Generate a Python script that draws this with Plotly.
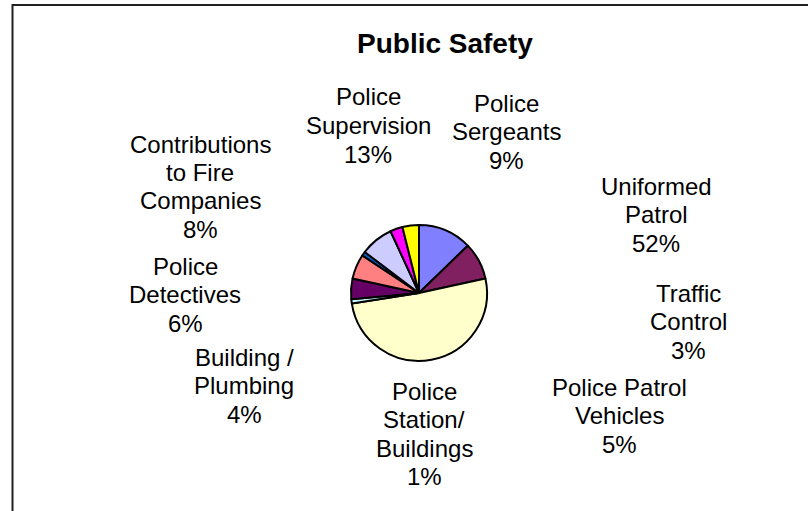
import plotly.graph_objects as go

# Public Safety budget shares (percent), in clockwise order from 12 o'clock
categories = [
    "Police<br>Supervision",
    "Police<br>Sergeants",
    "Uniformed<br>Patrol",
    "Police<br>Station/<br>Buildings",
    "Police Patrol<br>Vehicles",
    "Police<br>Detectives",
    "Miscellaneous",
    "Contributions<br>to Fire<br>Companies",
    "Traffic<br>Control",
    "Building /<br>Plumbing",
]
percents = [13, 9, 52, 1, 5, 6, 1, 8, 3, 4]
labelled = [True, True, True, True, True, True, False, True, True, True]
colors = ["#8080FF", "#802060", "#FFFFCC", "#CCFFFF", "#660066",
          "#FF8080", "#0066CC", "#CCCCFF", "#FF00FF", "#FFFF00"]

W, H = 808, 511

# label anchor (centre x, first-line centre y) in pixels
label_pos = [
    (368, 97), (506, 103), (656, 186), (424, 391), (619, 387),
    (185, 266), None, (200, 144), (688, 293), (244, 357),
]
LINE_STEP = 28.5

fig = go.Figure(go.Pie(
    labels=categories,
    values=percents,
    sort=False,
    direction="clockwise",
    rotation=0,
    marker=dict(colors=colors, line=dict(color="black", width=2)),
    textinfo="none",
    hoverinfo="skip",
    showlegend=False,
    domain=dict(x=[351 / W, 487 / W], y=[1 - 361 / H, 1 - 225 / H]),
))

annotations = [dict(
    text="<b>Public Safety</b>", x=445 / W, y=1 - 43 / H,
    xref="paper", yref="paper", xanchor="center", yanchor="middle",
    showarrow=False, font=dict(family="Liberation Sans", size=28, color="black"),
)]

for name, pct, show, pos in zip(categories, percents, labelled, label_pos):
    if not show or pos is None:
        continue
    lines = name.split("<br>") + [f"{pct}%"]
    cx, cy = pos
    for i, line in enumerate(lines):
        annotations.append(dict(
            text=line, x=cx / W, y=1 - (cy + i * LINE_STEP) / H,
            xref="paper", yref="paper", xanchor="center", yanchor="middle",
            showarrow=False,
            font=dict(family="Liberation Sans", size=24, color="black"),
        ))

fig.update_layout(
    width=W, height=H,
    margin=dict(l=0, r=0, t=0, b=0),
    paper_bgcolor="white",
    plot_bgcolor="white",
    annotations=annotations,
    shapes=[dict(
        type="rect", xref="paper", yref="paper",
        x0=12.5 / W, x1=1.05, y0=-0.05, y1=1 - 5 / H,
        line=dict(color="#202020", width=2),
    )],
)

fig.write_html("out.html")
